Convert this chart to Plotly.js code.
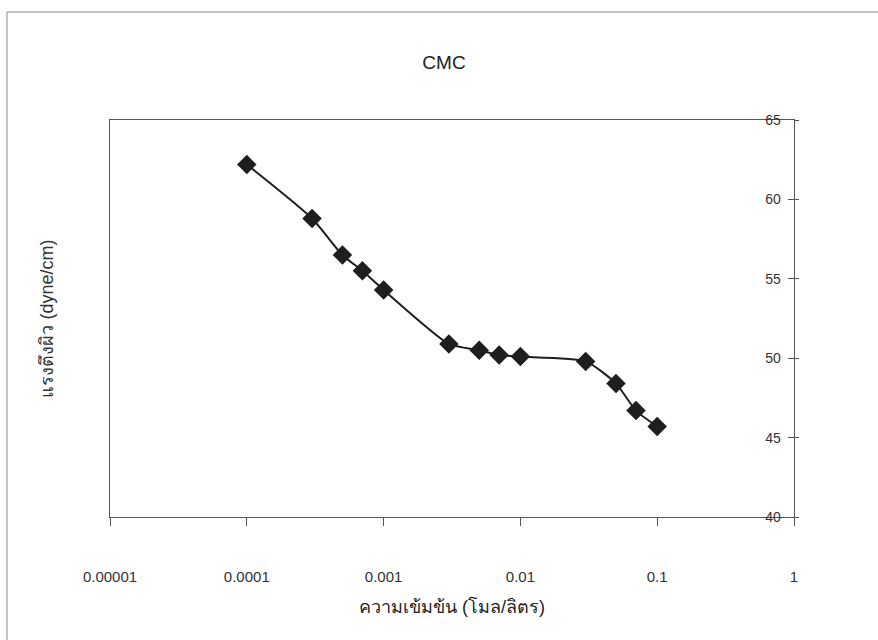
<!DOCTYPE html>
<html>
<head>
<meta charset="utf-8">
<script src="https://cdn.plot.ly/plotly-3.0.1.min.js"></script>
<style>
  html, body { margin: 0; padding: 0; background: #ffffff; }
  #chart { width: 878px; height: 640px; }
</style>
</head>
<body>
<div id="chart"></div>
<script>
// Surface tension vs. concentration (log scale)
const concentration = [0.0001, 0.0003, 0.0005, 0.0007, 0.001, 0.003, 0.005, 0.007, 0.01, 0.03, 0.05, 0.07, 0.1];
const surfaceTension = [62.2, 58.8, 56.5, 55.5, 54.3, 50.9, 50.5, 50.2, 50.1, 49.8, 48.4, 46.7, 45.7];

const xTickVals = [0.00001, 0.0001, 0.001, 0.01, 0.1, 1];
const xTickText = ['0.00001', '0.0001', '0.001', '0.01', '0.1', '1'];
const yTickVals = [40, 45, 50, 55, 60, 65];

const chartTitle = 'CMC';
const xTitle = 'ความเข้มข้น (โมล/ลิตร)';
const yTitle = 'แรงตึงผิว (dyne/cm)';

const textFont = 'Liberation Sans, Arial, sans-serif';
const axisColor = '#555555';

const trace = {
  x: concentration,
  y: surfaceTension,
  type: 'scatter',
  mode: 'lines+markers',
  line: { color: '#1e1e1e', width: 2, shape: 'spline', smoothing: 0.6 },
  marker: { symbol: 'diamond', size: 15, color: '#1e1e1e', line: { width: 0 } },
  hoverinfo: 'x+y',
  showlegend: false
};

// short outward stubs of the crossing tick marks on the right axis
const stubTrace = { x: [], y: [], yaxis: 'y2', type: 'scatter', showlegend: false, hoverinfo: 'skip' };

const layout = {
  width: 878,
  height: 640,
  margin: { l: 110, r: 84, t: 120, b: 123 },
  paper_bgcolor: '#ffffff',
  plot_bgcolor: '#ffffff',
  font: { family: textFont, color: '#333333', size: 14 },
  title: {
    text: chartTitle,
    font: { family: 'Liberation Sans Narrow, Liberation Sans, Arial, sans-serif', size: 19, color: '#222222' },
    x: 444 / 878, xanchor: 'center',
    y: 1 - 62 / 640, yanchor: 'middle'
  },
  xaxis: {
    type: 'log',
    range: [-5, 0],
    tickvals: xTickVals,
    ticktext: xTickText,
    ticks: 'outside',
    ticklen: 8,
    tickwidth: 1,
    tickcolor: axisColor,
    ticklabelstandoff: 38,
    ticklabeloverflow: 'allow',
    showline: true,
    linecolor: axisColor,
    linewidth: 1,
    mirror: true,
    showgrid: false,
    zeroline: false,
    tickfont: { size: 15, color: '#333333' },
    title: { text: xTitle, font: { size: 18, color: '#222222' }, standoff: 16 }
  },
  yaxis: {
    side: 'right',
    range: [40, 65],
    tickvals: yTickVals,
    ticks: 'inside',
    ticklen: 6,
    tickwidth: 1,
    tickcolor: axisColor,
    ticklabelposition: 'inside',
    ticklabelstandoff: 7,
    ticklabeloverflow: 'allow',
    showline: true,
    linecolor: axisColor,
    linewidth: 1,
    mirror: true,
    showgrid: false,
    zeroline: false,
    tickfont: { size: 14, color: '#333333' }
  },
  yaxis2: {
    overlaying: 'y',
    side: 'right',
    range: [40, 65],
    tickvals: yTickVals,
    ticks: 'outside',
    ticklen: 4,
    tickwidth: 1,
    tickcolor: axisColor,
    showticklabels: false,
    showline: false,
    showgrid: false,
    zeroline: false
  },
  annotations: [{
    text: yTitle,
    xref: 'paper', yref: 'paper',
    x: (46 - 110) / 684, y: 0.5,
    xanchor: 'center', yanchor: 'middle',
    textangle: -90,
    showarrow: false,
    font: { size: 18, color: '#333333' }
  }],
  shapes: [
    // outer frame: top and left edges
    { type: 'line', xref: 'paper', yref: 'paper', x0: (7 - 110) / 684, x1: 2, y0: (517 - 12) / 397, y1: (517 - 12) / 397, line: { color: '#8a8a8a', width: 1 } },
    { type: 'line', xref: 'paper', yref: 'paper', x0: (7 - 110) / 684, x1: (7 - 110) / 684, y0: -2, y1: (517 - 12) / 397, line: { color: '#8a8a8a', width: 1 } }
  ]
};

Plotly.newPlot('chart', [trace, stubTrace], layout, { displayModeBar: false, staticPlot: true });
</script>
</body>
</html>
